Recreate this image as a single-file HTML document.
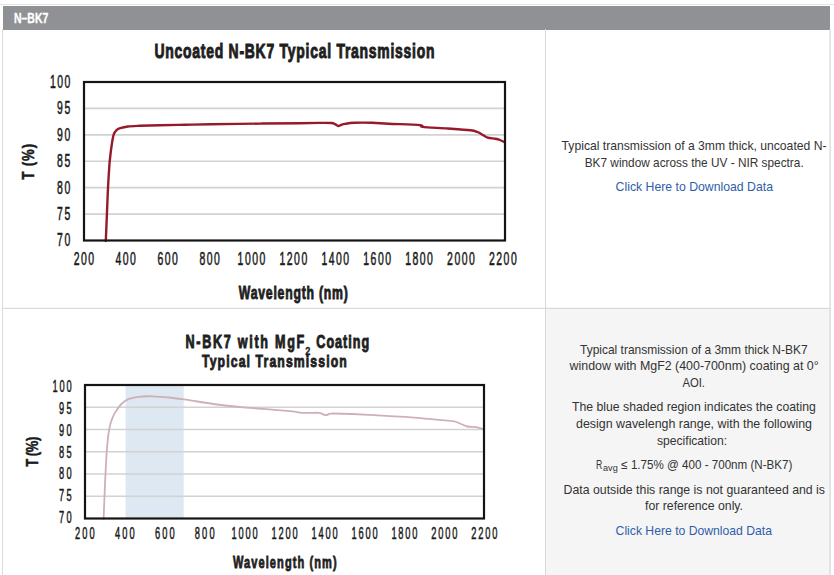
<!DOCTYPE html>
<html><head><meta charset="utf-8"><style>
html,body{margin:0;padding:0;background:#fff;width:834px;height:575px;overflow:hidden}
svg{display:block;font-family:"Liberation Sans", sans-serif}
</style></head><body>
<svg width="834" height="575" viewBox="0 0 834 575">
<rect x="0" y="0" width="834" height="575" fill="#fff"/>
<rect x="0" y="4" width="834" height="1" fill="#e4e4e4"/>
<rect x="3" y="6" width="827" height="24" fill="#909195"/>
<rect x="546" y="309" width="284" height="266" fill="#f5f5f5"/>
<rect x="2" y="29" width="1" height="546" fill="#dcdcdc"/>
<rect x="829.5" y="29" width="1.2" height="546" fill="#d4d4d4"/>
<rect x="545" y="29" width="1" height="546" fill="#d8d8d8"/>
<rect x="2" y="307.8" width="828" height="1.1" fill="#d6d6d6"/>
<line x1="84" y1="108.42" x2="505" y2="108.42" stroke="#d2d2d2" stroke-width="1.6"/>
<line x1="84" y1="134.83" x2="505" y2="134.83" stroke="#d2d2d2" stroke-width="1.6"/>
<line x1="84" y1="161.25" x2="505" y2="161.25" stroke="#d2d2d2" stroke-width="1.6"/>
<line x1="84" y1="187.67" x2="505" y2="187.67" stroke="#d2d2d2" stroke-width="1.6"/>
<line x1="84" y1="214.08" x2="505" y2="214.08" stroke="#d2d2d2" stroke-width="1.6"/>
<path d="M105.80,241.00 C106.00,236.17 106.63,220.83 107.00,212.00 C107.37,203.17 107.60,195.83 108.00,188.00 C108.40,180.17 109.00,170.50 109.40,165.00 C109.80,159.50 110.02,158.33 110.40,155.00 C110.78,151.67 111.17,148.37 111.70,145.00 C112.23,141.63 112.83,137.25 113.60,134.80 C114.37,132.35 115.20,131.40 116.30,130.30 C117.40,129.20 118.28,128.83 120.20,128.20 C122.12,127.57 124.50,126.90 127.80,126.50 C131.10,126.10 134.63,126.02 140.00,125.80 C145.37,125.58 152.50,125.37 160.00,125.20 C167.50,125.03 176.53,124.95 185.00,124.80 C193.47,124.65 198.30,124.50 210.80,124.30 C223.30,124.10 245.13,123.78 260.00,123.60 C274.87,123.42 290.00,123.32 300.00,123.20 C310.00,123.08 314.77,122.93 320.00,122.90 C325.23,122.87 328.90,122.78 331.40,123.00 C333.90,123.22 333.87,123.70 335.00,124.20 C336.13,124.70 337.20,125.87 338.20,126.00 C339.20,126.13 339.87,125.35 341.00,125.00 C342.13,124.65 342.80,124.27 345.00,123.90 C347.20,123.53 349.63,122.98 354.20,122.80 C358.77,122.62 366.70,122.65 372.40,122.80 C378.10,122.95 380.43,123.32 388.40,123.70 C396.37,124.08 414.52,124.57 420.20,125.10 C425.88,125.63 417.93,126.33 422.50,126.90 C427.07,127.47 439.62,127.93 447.60,128.50 C455.58,129.07 465.47,129.73 470.40,130.30 C475.33,130.87 475.27,131.20 477.20,131.90 C479.13,132.60 480.28,133.55 482.00,134.50 C483.72,135.45 485.27,136.90 487.50,137.60 C489.73,138.30 493.32,138.30 495.40,138.70 C497.48,139.10 498.48,139.42 500.00,140.00 C501.52,140.58 503.75,141.83 504.50,142.20" fill="none" stroke="#961a2a" stroke-width="2.4" stroke-linejoin="round" stroke-linecap="round"/>
<rect x="84" y="82" width="421" height="158.5" fill="none" stroke="#141414" stroke-width="2.2"/>
<rect x="125.6" y="386" width="58.099999999999994" height="132.5" fill="#dde8f3"/>
<line x1="85" y1="407.25" x2="484" y2="407.25" stroke="#d2d2d2" stroke-width="1.6"/>
<line x1="85" y1="429.50" x2="484" y2="429.50" stroke="#d2d2d2" stroke-width="1.6"/>
<line x1="85" y1="451.75" x2="484" y2="451.75" stroke="#d2d2d2" stroke-width="1.6"/>
<line x1="85" y1="474.00" x2="484" y2="474.00" stroke="#d2d2d2" stroke-width="1.6"/>
<line x1="85" y1="496.25" x2="484" y2="496.25" stroke="#d2d2d2" stroke-width="1.6"/>
<path d="M103.60,519.00 C103.87,512.50 104.67,491.33 105.20,480.00 C105.73,468.67 106.30,458.33 106.80,451.00 C107.30,443.67 107.78,439.67 108.20,436.00 C108.62,432.33 108.83,431.33 109.30,429.00 C109.77,426.67 110.13,424.57 111.00,422.00 C111.87,419.43 112.77,416.60 114.50,413.60 C116.23,410.60 119.08,406.40 121.40,404.00 C123.72,401.60 125.63,400.40 128.40,399.20 C131.17,398.00 134.00,397.28 138.00,396.80 C142.00,396.32 147.23,396.18 152.40,396.30 C157.57,396.42 163.40,396.93 169.00,397.50 C174.60,398.07 178.00,398.53 186.00,399.70 C194.00,400.87 207.00,403.18 217.00,404.50 C227.00,405.82 233.83,406.50 246.00,407.60 C258.17,408.70 280.67,410.23 290.00,411.10 C299.33,411.97 297.20,412.52 302.00,412.80 C306.80,413.08 315.47,412.63 318.80,412.80 C322.13,412.97 320.80,413.40 322.00,413.80 C323.20,414.20 324.83,415.17 326.00,415.20 C327.17,415.23 327.80,414.28 329.00,414.00 C330.20,413.72 329.32,413.50 333.20,413.50 C337.08,413.50 343.50,413.60 352.30,414.00 C361.10,414.40 377.20,415.42 386.00,415.90 C394.80,416.38 397.12,416.33 405.10,416.90 C413.08,417.47 425.92,418.58 433.90,419.30 C441.88,420.02 448.65,420.50 453.00,421.20 C457.35,421.90 457.58,422.62 460.00,423.50 C462.42,424.38 464.85,425.88 467.50,426.50 C470.15,427.12 473.32,426.77 475.90,427.20 C478.48,427.63 481.82,428.78 483.00,429.10" fill="none" stroke="#cdb0b8" stroke-width="1.8" stroke-linejoin="round" stroke-linecap="round"/>
<rect x="85" y="385" width="399" height="133.5" fill="none" stroke="#141414" stroke-width="2.2"/>
<text x="14.00" y="23.00" font-size="14" font-weight="bold" fill="#ffffff" stroke="#ffffff" stroke-width="0.35" textLength="34.30" lengthAdjust="spacingAndGlyphs" >N–BK7</text>
<text x="0" y="0" transform="translate(154.50,57.80) scale(0.68,1)" font-size="20.5" font-weight="bold" fill="#1e1e1e" stroke="#1e1e1e" stroke-width="1.0" textLength="411.76" lengthAdjust="spacing" >Uncoated N-BK7 Typical Transmission</text>
<text x="0" y="0" transform="translate(50.00,87.90) scale(0.58,1)" font-size="18" font-weight="normal" fill="#1a1a1a" stroke="#1a1a1a" stroke-width="0.55" textLength="35.00" lengthAdjust="spacing" >100</text>
<text x="0" y="0" transform="translate(57.10,114.32) scale(0.58,1)" font-size="18" font-weight="normal" fill="#1a1a1a" stroke="#1a1a1a" stroke-width="0.55" textLength="22.76" lengthAdjust="spacing" >95</text>
<text x="0" y="0" transform="translate(57.10,140.73) scale(0.58,1)" font-size="18" font-weight="normal" fill="#1a1a1a" stroke="#1a1a1a" stroke-width="0.55" textLength="22.76" lengthAdjust="spacing" >90</text>
<text x="0" y="0" transform="translate(57.10,167.15) scale(0.58,1)" font-size="18" font-weight="normal" fill="#1a1a1a" stroke="#1a1a1a" stroke-width="0.55" textLength="22.76" lengthAdjust="spacing" >85</text>
<text x="0" y="0" transform="translate(57.10,193.57) scale(0.58,1)" font-size="18" font-weight="normal" fill="#1a1a1a" stroke="#1a1a1a" stroke-width="0.55" textLength="22.76" lengthAdjust="spacing" >80</text>
<text x="0" y="0" transform="translate(57.10,219.98) scale(0.58,1)" font-size="18" font-weight="normal" fill="#1a1a1a" stroke="#1a1a1a" stroke-width="0.55" textLength="22.76" lengthAdjust="spacing" >75</text>
<text x="0" y="0" transform="translate(57.10,246.40) scale(0.58,1)" font-size="18" font-weight="normal" fill="#1a1a1a" stroke="#1a1a1a" stroke-width="0.55" textLength="22.76" lengthAdjust="spacing" >70</text>
<text x="0" y="0" transform="translate(73.70,265.00) scale(0.58,1)" font-size="18" font-weight="normal" fill="#1a1a1a" stroke="#1a1a1a" stroke-width="0.55" textLength="35.00" lengthAdjust="spacing" >200</text>
<text x="0" y="0" transform="translate(115.60,265.00) scale(0.58,1)" font-size="18" font-weight="normal" fill="#1a1a1a" stroke="#1a1a1a" stroke-width="0.55" textLength="35.00" lengthAdjust="spacing" >400</text>
<text x="0" y="0" transform="translate(157.50,265.00) scale(0.58,1)" font-size="18" font-weight="normal" fill="#1a1a1a" stroke="#1a1a1a" stroke-width="0.55" textLength="35.00" lengthAdjust="spacing" >600</text>
<text x="0" y="0" transform="translate(199.40,265.00) scale(0.58,1)" font-size="18" font-weight="normal" fill="#1a1a1a" stroke="#1a1a1a" stroke-width="0.55" textLength="35.00" lengthAdjust="spacing" >800</text>
<text x="0" y="0" transform="translate(237.60,265.00) scale(0.58,1)" font-size="18" font-weight="normal" fill="#1a1a1a" stroke="#1a1a1a" stroke-width="0.55" textLength="47.76" lengthAdjust="spacing" >1000</text>
<text x="0" y="0" transform="translate(279.50,265.00) scale(0.58,1)" font-size="18" font-weight="normal" fill="#1a1a1a" stroke="#1a1a1a" stroke-width="0.55" textLength="47.76" lengthAdjust="spacing" >1200</text>
<text x="0" y="0" transform="translate(321.40,265.00) scale(0.58,1)" font-size="18" font-weight="normal" fill="#1a1a1a" stroke="#1a1a1a" stroke-width="0.55" textLength="47.76" lengthAdjust="spacing" >1400</text>
<text x="0" y="0" transform="translate(363.30,265.00) scale(0.58,1)" font-size="18" font-weight="normal" fill="#1a1a1a" stroke="#1a1a1a" stroke-width="0.55" textLength="47.76" lengthAdjust="spacing" >1600</text>
<text x="0" y="0" transform="translate(405.20,265.00) scale(0.58,1)" font-size="18" font-weight="normal" fill="#1a1a1a" stroke="#1a1a1a" stroke-width="0.55" textLength="47.76" lengthAdjust="spacing" >1800</text>
<text x="0" y="0" transform="translate(447.10,265.00) scale(0.58,1)" font-size="18" font-weight="normal" fill="#1a1a1a" stroke="#1a1a1a" stroke-width="0.55" textLength="47.76" lengthAdjust="spacing" >2000</text>
<text x="0" y="0" transform="translate(489.00,265.00) scale(0.58,1)" font-size="18" font-weight="normal" fill="#1a1a1a" stroke="#1a1a1a" stroke-width="0.55" textLength="47.76" lengthAdjust="spacing" >2200</text>
<text x="0" y="0" transform="translate(238.80,298.50) scale(0.68,1)" font-size="18" font-weight="bold" fill="#1e1e1e" stroke="#1e1e1e" stroke-width="0.9" textLength="160.29" lengthAdjust="spacing" >Wavelength (nm)</text>
<text x="0" y="0" font-size="16.5" font-weight="bold" fill="#1a1a1a" stroke="#1a1a1a" stroke-width="0.5" textLength="45" lengthAdjust="spacing" transform="translate(34,179.8) rotate(-90) scale(0.8,1)">T (%)</text>
<text x="0" y="0" transform="translate(185.50,347.80) scale(0.72,1)" font-size="17.5" font-weight="bold" fill="#1e1e1e" stroke="#1e1e1e" stroke-width="0.9" textLength="165.00" lengthAdjust="spacing" >N-BK7 with MgF</text>
<text x="305.30" y="354.60" font-size="11" font-weight="bold" fill="#1e1e1e" stroke="#1e1e1e" stroke-width="0.3" textLength="5.10" lengthAdjust="spacingAndGlyphs" >2</text>
<text x="0" y="0" transform="translate(316.30,347.80) scale(0.72,1)" font-size="17.5" font-weight="bold" fill="#1e1e1e" stroke="#1e1e1e" stroke-width="0.9" textLength="73.33" lengthAdjust="spacing" >Coating</text>
<text x="0" y="0" transform="translate(202.00,367.30) scale(0.72,1)" font-size="17" font-weight="bold" fill="#1e1e1e" stroke="#1e1e1e" stroke-width="0.9" textLength="201.11" lengthAdjust="spacing" >Typical Transmission</text>
<text x="0" y="0" transform="translate(52.40,391.80) scale(0.58,1)" font-size="16" font-weight="normal" fill="#1a1a1a" stroke="#1a1a1a" stroke-width="0.5" textLength="33.10" lengthAdjust="spacing" >100</text>
<text x="0" y="0" transform="translate(58.90,413.72) scale(0.58,1)" font-size="16" font-weight="normal" fill="#1a1a1a" stroke="#1a1a1a" stroke-width="0.5" textLength="21.90" lengthAdjust="spacing" >95</text>
<text x="0" y="0" transform="translate(58.90,435.64) scale(0.58,1)" font-size="16" font-weight="normal" fill="#1a1a1a" stroke="#1a1a1a" stroke-width="0.5" textLength="21.90" lengthAdjust="spacing" >90</text>
<text x="0" y="0" transform="translate(58.90,457.56) scale(0.58,1)" font-size="16" font-weight="normal" fill="#1a1a1a" stroke="#1a1a1a" stroke-width="0.5" textLength="21.90" lengthAdjust="spacing" >85</text>
<text x="0" y="0" transform="translate(58.90,479.48) scale(0.58,1)" font-size="16" font-weight="normal" fill="#1a1a1a" stroke="#1a1a1a" stroke-width="0.5" textLength="21.90" lengthAdjust="spacing" >80</text>
<text x="0" y="0" transform="translate(58.90,501.40) scale(0.58,1)" font-size="16" font-weight="normal" fill="#1a1a1a" stroke="#1a1a1a" stroke-width="0.5" textLength="21.90" lengthAdjust="spacing" >75</text>
<text x="0" y="0" transform="translate(58.90,523.32) scale(0.58,1)" font-size="16" font-weight="normal" fill="#1a1a1a" stroke="#1a1a1a" stroke-width="0.5" textLength="21.90" lengthAdjust="spacing" >70</text>
<text x="0" y="0" transform="translate(75.00,539.40) scale(0.58,1)" font-size="16" font-weight="normal" fill="#1a1a1a" stroke="#1a1a1a" stroke-width="0.5" textLength="33.97" lengthAdjust="spacing" >200</text>
<text x="0" y="0" transform="translate(114.95,539.40) scale(0.58,1)" font-size="16" font-weight="normal" fill="#1a1a1a" stroke="#1a1a1a" stroke-width="0.5" textLength="33.97" lengthAdjust="spacing" >400</text>
<text x="0" y="0" transform="translate(154.90,539.40) scale(0.58,1)" font-size="16" font-weight="normal" fill="#1a1a1a" stroke="#1a1a1a" stroke-width="0.5" textLength="33.97" lengthAdjust="spacing" >600</text>
<text x="0" y="0" transform="translate(194.85,539.40) scale(0.58,1)" font-size="16" font-weight="normal" fill="#1a1a1a" stroke="#1a1a1a" stroke-width="0.5" textLength="33.97" lengthAdjust="spacing" >800</text>
<text x="0" y="0" transform="translate(231.60,539.40) scale(0.58,1)" font-size="16" font-weight="normal" fill="#1a1a1a" stroke="#1a1a1a" stroke-width="0.5" textLength="45.00" lengthAdjust="spacing" >1000</text>
<text x="0" y="0" transform="translate(271.55,539.40) scale(0.58,1)" font-size="16" font-weight="normal" fill="#1a1a1a" stroke="#1a1a1a" stroke-width="0.5" textLength="45.00" lengthAdjust="spacing" >1200</text>
<text x="0" y="0" transform="translate(311.50,539.40) scale(0.58,1)" font-size="16" font-weight="normal" fill="#1a1a1a" stroke="#1a1a1a" stroke-width="0.5" textLength="45.00" lengthAdjust="spacing" >1400</text>
<text x="0" y="0" transform="translate(351.45,539.40) scale(0.58,1)" font-size="16" font-weight="normal" fill="#1a1a1a" stroke="#1a1a1a" stroke-width="0.5" textLength="45.00" lengthAdjust="spacing" >1600</text>
<text x="0" y="0" transform="translate(391.40,539.40) scale(0.58,1)" font-size="16" font-weight="normal" fill="#1a1a1a" stroke="#1a1a1a" stroke-width="0.5" textLength="45.00" lengthAdjust="spacing" >1800</text>
<text x="0" y="0" transform="translate(431.35,539.40) scale(0.58,1)" font-size="16" font-weight="normal" fill="#1a1a1a" stroke="#1a1a1a" stroke-width="0.5" textLength="45.00" lengthAdjust="spacing" >2000</text>
<text x="0" y="0" transform="translate(471.30,539.40) scale(0.58,1)" font-size="16" font-weight="normal" fill="#1a1a1a" stroke="#1a1a1a" stroke-width="0.5" textLength="45.00" lengthAdjust="spacing" >2200</text>
<text x="0" y="0" transform="translate(232.90,567.70) scale(0.7,1)" font-size="15.8" font-weight="bold" fill="#1e1e1e" stroke="#1e1e1e" stroke-width="0.8" textLength="148.29" lengthAdjust="spacing" >Wavelength (nm)</text>
<text x="0" y="0" font-size="16.2" font-weight="bold" fill="#1a1a1a" stroke="#1a1a1a" stroke-width="0.5" textLength="37.5" lengthAdjust="spacing" transform="translate(37.6,466.8) rotate(-90) scale(0.8,1)">T (%)</text>
<text x="561.60" y="150.00" font-size="12.6" font-weight="normal" fill="#333333" textLength="264.90" lengthAdjust="spacingAndGlyphs" >Typical transmission of a 3mm thick, uncoated N-</text>
<text x="584.70" y="167.10" font-size="12.6" font-weight="normal" fill="#333333" textLength="219.00" lengthAdjust="spacingAndGlyphs" >BK7 window across the UV - NIR spectra.</text>
<text x="615.60" y="190.80" font-size="12.6" font-weight="normal" fill="#2f5ea8" textLength="157.40" lengthAdjust="spacingAndGlyphs" >Click Here to Download Data</text>
<text x="580.00" y="354.10" font-size="12.6" font-weight="normal" fill="#333333" textLength="227.60" lengthAdjust="spacingAndGlyphs" >Typical transmission of a 3mm thick N-BK7</text>
<text x="569.60" y="370.30" font-size="12.6" font-weight="normal" fill="#333333" textLength="249.10" lengthAdjust="spacingAndGlyphs" >window with MgF2 (400-700nm) coating at 0°</text>
<text x="682.40" y="386.60" font-size="12.6" font-weight="normal" fill="#333333" textLength="22.60" lengthAdjust="spacingAndGlyphs" >AOI.</text>
<text x="572.00" y="410.50" font-size="12.6" font-weight="normal" fill="#333333" textLength="243.80" lengthAdjust="spacingAndGlyphs" >The blue shaded region indicates the coating</text>
<text x="576.00" y="427.80" font-size="12.6" font-weight="normal" fill="#333333" textLength="236.00" lengthAdjust="spacingAndGlyphs" >design wavelengh range, with the following</text>
<text x="657.00" y="445.00" font-size="12.6" font-weight="normal" fill="#333333" textLength="70.00" lengthAdjust="spacingAndGlyphs" >specification:</text>
<text x="621.30" y="468.70" font-size="12.6" font-weight="normal" fill="#333333" textLength="171.10" lengthAdjust="spacingAndGlyphs" >≤ 1.75% @ 400 - 700nm (N-BK7)</text>
<text x="596.10" y="468.70" font-size="12.6" font-weight="normal" fill="#333333" textLength="6.30" lengthAdjust="spacingAndGlyphs" >R</text>
<text x="603.00" y="470.80" font-size="8.8" font-weight="normal" fill="#333333" textLength="14.70" lengthAdjust="spacingAndGlyphs" >avg</text>
<text x="563.60" y="494.00" font-size="12.6" font-weight="normal" fill="#333333" textLength="261.40" lengthAdjust="spacingAndGlyphs" >Data outside this range is not guaranteed and is</text>
<text x="645.00" y="510.30" font-size="12.6" font-weight="normal" fill="#333333" textLength="98.00" lengthAdjust="spacingAndGlyphs" >for reference only.</text>
<text x="615.60" y="535.00" font-size="12.6" font-weight="normal" fill="#2f5ea8" textLength="156.40" lengthAdjust="spacingAndGlyphs" >Click Here to Download Data</text>
</svg>
</body></html>
